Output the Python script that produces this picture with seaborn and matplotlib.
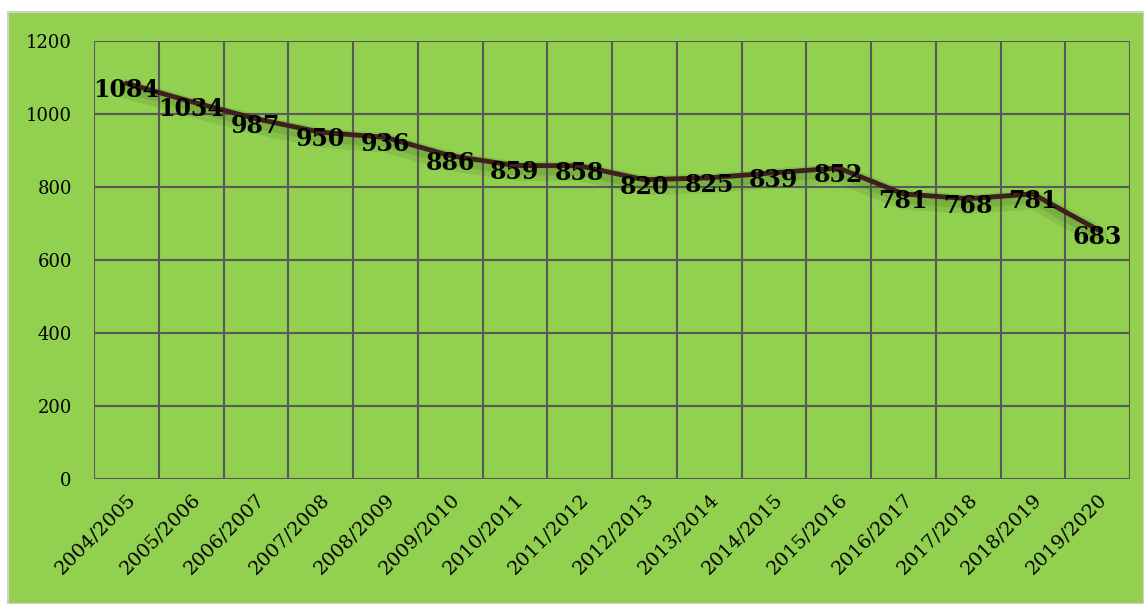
import matplotlib
matplotlib.use("Agg")
import matplotlib.pyplot as plt
import matplotlib.patheffects as pe
from matplotlib.patches import Rectangle
import seaborn as sns
import pandas as pd

years = ["2004/2005", "2005/2006", "2006/2007", "2007/2008", "2008/2009",
         "2009/2010", "2010/2011", "2011/2012", "2012/2013", "2013/2014",
         "2014/2015", "2015/2016", "2016/2017", "2017/2018", "2018/2019",
         "2019/2020"]
values = [1084, 1034, 987, 950, 936, 886, 859, 858, 820, 825, 839, 852,
          781, 768, 781, 683]
y_ticks = [0, 200, 400, 600, 800, 1000, 1200]

green = "#92D050"
grid_col = "#595959"
line_col = "#3F1F1F"

df = pd.DataFrame({"pos": range(len(years)), "val": values})

sns.set_style("white")
plt.rcParams["font.family"] = ["DejaVu Serif"]

fig = plt.figure(figsize=(11.44, 6.04), dpi=100, facecolor="white")
# green chart area with thin grey border
fig.patches.append(Rectangle((8 / 1144, 0), 1 - 8 / 1144, 1 - 12 / 604,
                             transform=fig.transFigure, facecolor=green,
                             edgecolor="#d0d0d0", linewidth=1.5, zorder=-10))

ax = fig.add_axes([94 / 1144, 1 - 479 / 604, (1130 - 94) / 1144, (479 - 41) / 604])
ax.set_facecolor(green)

sns.lineplot(data=df, x="pos", y="val", ax=ax, color=line_col, linewidth=3.5,
             path_effects=[pe.SimpleLineShadow(offset=(0, -4), shadow_color="#2f4f10",
                                               alpha=0.12, linewidth=14),
                           pe.SimpleLineShadow(offset=(0, -3), shadow_color="#2f4f10",
                                               alpha=0.15, linewidth=8),
                           pe.Normal()])

ax.set_xlim(-0.5, len(years) - 0.5)
ax.set_ylim(0, 1200)
ax.set_yticks(y_ticks)
ax.set_yticklabels([str(t) for t in y_ticks], fontsize=13, color="black")

ax.set_xticks(range(len(years)))
ax.set_xticklabels(years, rotation=45, ha="right", va="top",
                   rotation_mode="anchor", fontsize=14, color="black")

ax.grid(False)
for xb in [i - 0.5 for i in range(len(years) + 1)]:
    ax.axvline(xb, color=grid_col, linewidth=1.5, zorder=1)
for yt in y_ticks:
    ax.axhline(yt, color=grid_col, linewidth=1.5, zorder=1)

for s in ax.spines.values():
    s.set_visible(False)
ax.tick_params(axis="both", which="both", length=0)
ax.tick_params(axis="y", pad=16)
ax.tick_params(axis="x", pad=8)
ax.set_xlabel("")
ax.set_ylabel("")

for i, v in enumerate(values):
    ax.annotate(str(v), (i, v), xytext=(0, -5), textcoords="offset points",
                ha="center", va="center", fontsize=17, fontweight="bold",
                color="black", zorder=5)

fig.savefig("out.png", dpi=100, facecolor=fig.get_facecolor())
